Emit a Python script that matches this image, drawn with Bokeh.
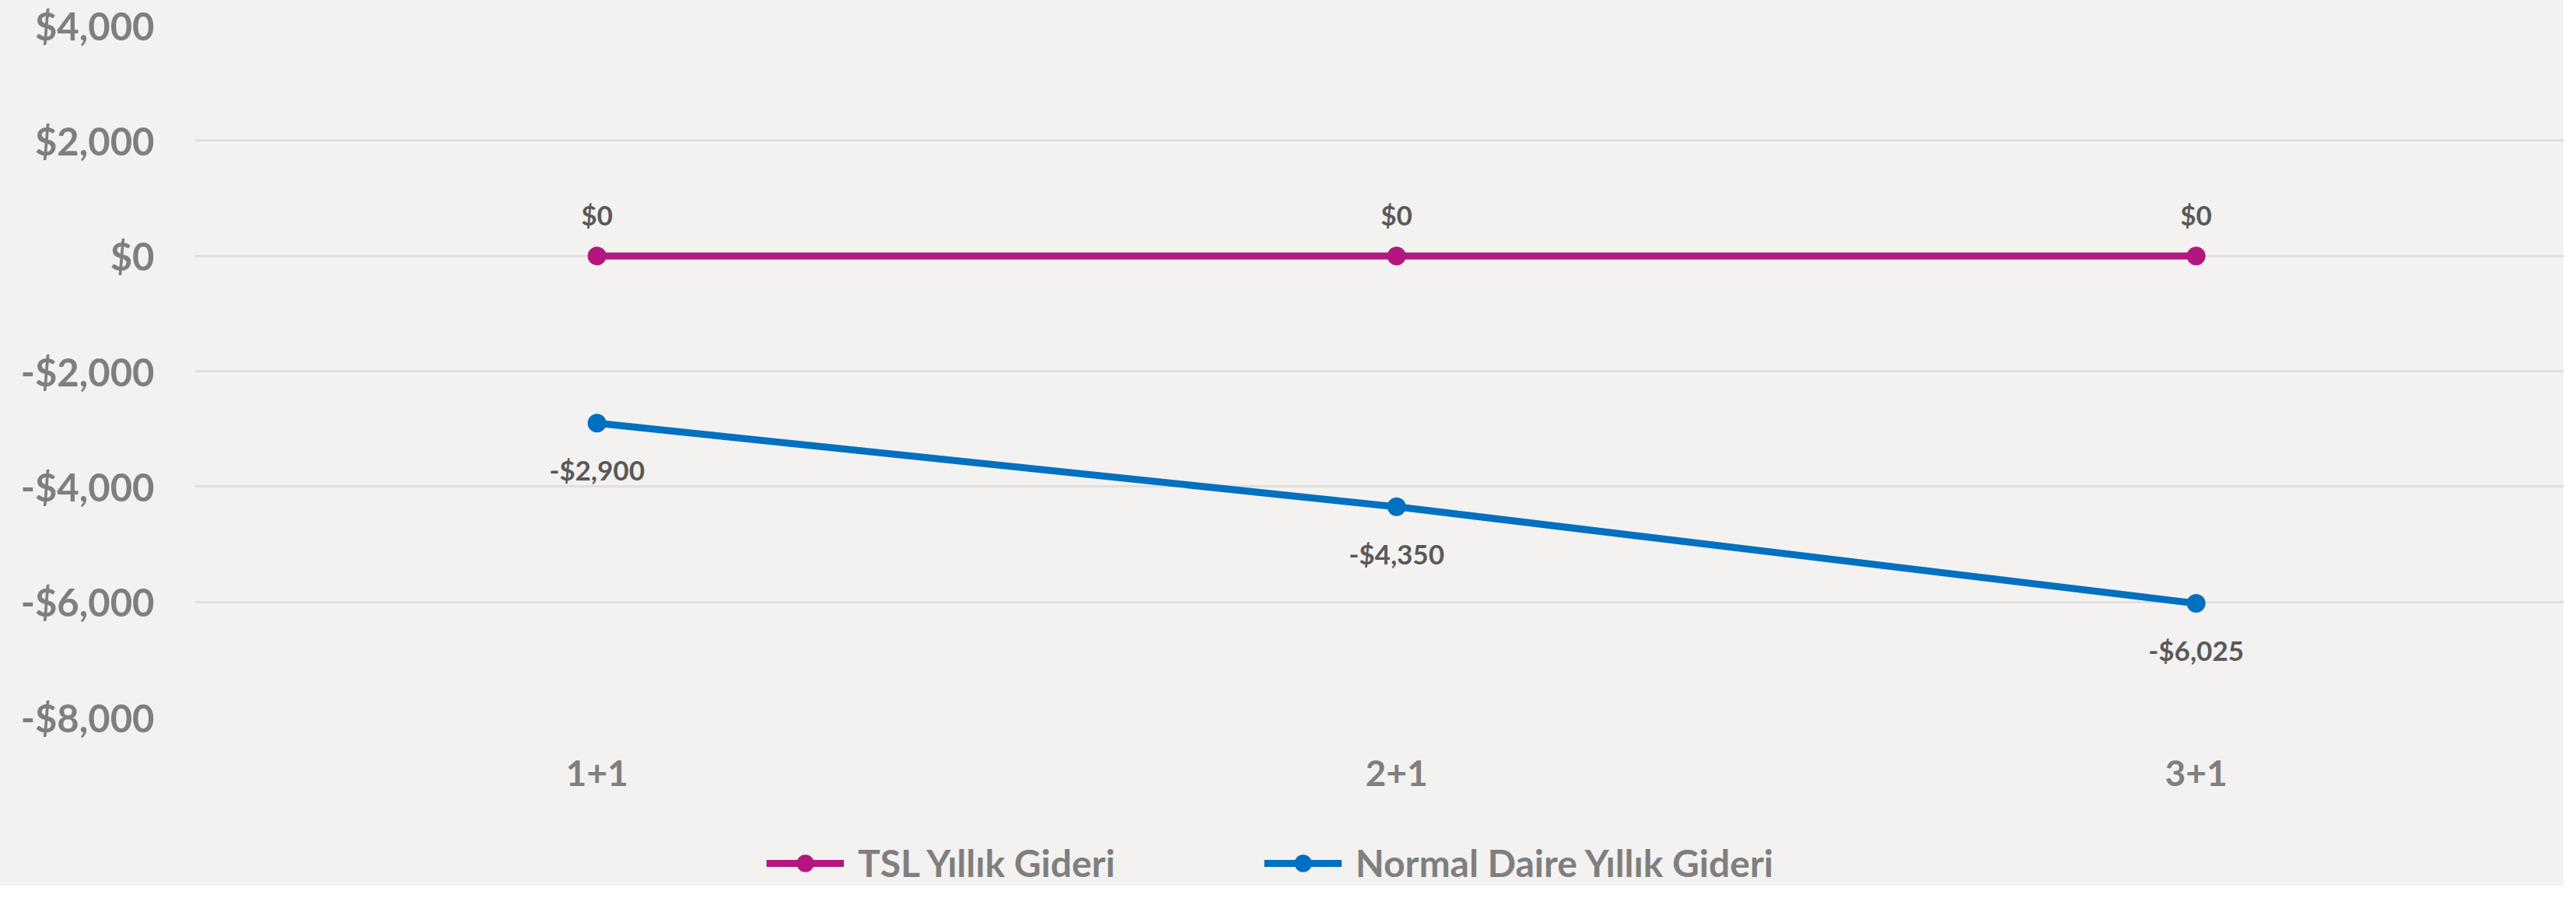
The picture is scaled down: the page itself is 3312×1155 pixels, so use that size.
from bokeh.plotting import figure
from bokeh.layouts import column
from bokeh.models import (Range1d, FixedTicker, ColumnDataSource, Legend, LegendItem)
from bokeh.embed import file_html
from bokeh.resources import INLINE
from bokeh.core.properties import value

# ---- data ----
categories = ["1+1", "2+1", "3+1"]
tsl_values = [0, 0, 0]
normal_values = [-2900, -4350, -6025]
y_ticks = [4000, 2000, 0, -2000, -4000, -6000, -8000]
y_tick_labels = ["$4,000", "$2,000", "$0", "-$2,000", "-$4,000", "-$6,000", "-$8,000"]
series_names = ["TSL Yıllık Gideri", "Normal Daire Yıllık Gideri"]


def money(v):
    return ("-$" if v < 0 else "$") + f"{abs(v):,}"


x_pos = list(range(len(categories)))
BG = "#f3f2f0"
MAGENTA = "#B3177F"
BLUE = "#0070C0"
FONT = "Lato"
W = 3296
H_MAIN = 1040
H_LEG = 1139 - H_MAIN
TOP = 32
FRAME_H = 890

p = figure(width=W, height=H_MAIN, output_backend="svg", toolbar_location=None,
           x_range=Range1d(-0.503, 2.46), y_range=Range1d(-8000, 4000),
           min_border_left=250, min_border_right=0, min_border_top=TOP,
           min_border_bottom=H_MAIN - TOP - FRAME_H)
p.background_fill_color = BG
p.border_fill_color = BG
p.outline_line_color = None

# axes
p.xaxis.ticker = FixedTicker(ticks=x_pos)
p.xaxis.major_label_overrides = {i: c for i, c in zip(x_pos, categories)}
p.yaxis.ticker = FixedTicker(ticks=y_ticks)
p.yaxis.major_label_overrides = {t: l for t, l in zip(y_ticks, y_tick_labels)}
for ax in (p.xaxis, p.yaxis):
    ax.axis_line_color = None
    ax.major_tick_line_color = None
    ax.minor_tick_line_color = None
    ax.major_label_text_font = FONT
    ax.major_label_text_font_style = "bold"
    ax.major_label_text_color = "#7f7f7f"
p.xaxis.major_label_text_font_size = "46px"
p.xaxis.major_label_standoff = 49
p.yaxis.major_label_text_font_size = "49px"
p.yaxis.major_label_standoff = 46

p.xgrid.grid_line_color = None
p.ygrid.grid_line_color = "#e0dfde"
p.ygrid.grid_line_width = 3

src_tsl = ColumnDataSource(dict(x=x_pos, y=tsl_values, lab=[money(v) for v in tsl_values]))
src_norm = ColumnDataSource(dict(x=x_pos, y=normal_values, lab=[money(v) for v in normal_values]))

p.line("x", "y", source=src_tsl, line_color=MAGENTA, line_width=9)
p.scatter("x", "y", source=src_tsl, size=24, fill_color=MAGENTA, line_color=None)
p.line("x", "y", source=src_norm, line_color=BLUE, line_width=9)
p.scatter("x", "y", source=src_norm, size=24, fill_color=BLUE, line_color=None)

p.text("x", "y", text="lab", source=src_tsl, y_offset=-53, text_align="center",
       text_baseline="middle", text_font=value(FONT), text_font_style="bold",
       text_font_size="35px", text_color="#595959")
p.text("x", "y", text="lab", source=src_norm, y_offset=60, text_align="center",
       text_baseline="middle", text_font=value(FONT), text_font_style="bold",
       text_font_size="35px", text_color="#595959")

# ---- legend strip (separate figure so the legend sits freely under the axis) ----
q = figure(width=W, height=H_LEG, output_backend="svg", toolbar_location=None,
           x_range=Range1d(-0.503, 2.46), y_range=Range1d(100000, 100001),
           min_border=0)
q.axis.visible = False
q.grid.visible = False
q.outline_line_color = None
q.background_fill_color = BG
q.border_fill_color = BG
ql1 = q.line("x", "y", source=src_tsl, line_color=MAGENTA, line_width=9)
qc1 = q.scatter("x", "y", source=src_tsl, size=24, fill_color=MAGENTA, line_color=None)
ql2 = q.line("x", "y", source=src_norm, line_color=BLUE, line_width=9)
qc2 = q.scatter("x", "y", source=src_norm, size=24, fill_color=BLUE, line_color=None)

legend = Legend(items=[LegendItem(label=series_names[0], renderers=[ql1, qc1]),
                       LegendItem(label=series_names[1], renderers=[ql2, qc2])],
                orientation="horizontal", location=(735, 1),
                background_fill_alpha=0, border_line_color=None,
                padding=0, margin=0, spacing=191, label_standoff=18,
                glyph_width=100, glyph_height=56, label_height=56,
                label_text_font=FONT, label_text_font_style="bold",
                label_text_font_size="48px", label_text_color="#7f7f7f",
                label_text_baseline="middle")
q.add_layout(legend, "center")

layout = column(p, q, spacing=0, styles={"background-color": BG})
html = file_html(layout, INLINE)
html = html.replace("<body>", '<body style="background-color:%s;">' % BG, 1)
open("out.html", "w").write(html)
